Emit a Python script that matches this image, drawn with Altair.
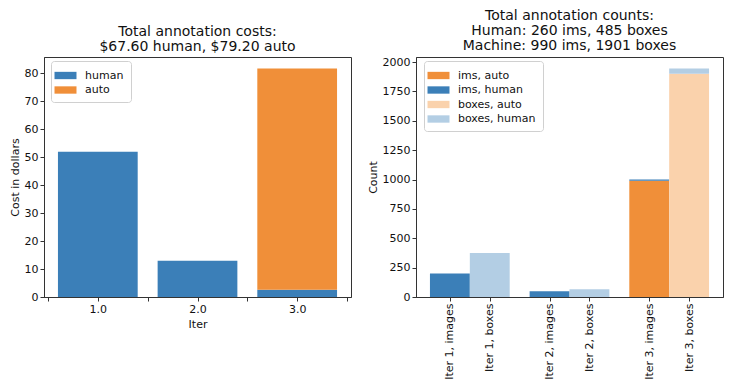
import altair as alt
import pandas as pd

# ---- data ----
iters = [1, 2, 3]
cost_human = [52.0, 13.0, 2.6]
cost_auto = [0.0, 0.0, 79.2]
ims_human = [200, 50, 10]
ims_auto = [0, 0, 990]
boxes_human = [375, 65, 45]
boxes_auto = [0, 0, 1901]
cost_series = ["human", "auto"]
count_series = ["ims, auto", "ims, human", "boxes, auto", "boxes, human"]
cost_ticks = [0.5, 1.0, 1.5, 2.0, 2.5, 3.0, 3.5]
count_tick_pos = [0.8, 1.2, 1.8, 2.2, 2.8, 3.2]
count_tick_labels = ["Iter 1, images", "Iter 1, boxes", "Iter 2, images",
                     "Iter 2, boxes", "Iter 3, images", "Iter 3, boxes"]
left_title = ["Total annotation costs:", "$67.60 human, $79.20 auto"]
right_title = ["Total annotation counts:", "Human: 260 ims, 485 boxes",
               "Machine: 990 ims, 1901 boxes"]

BLUE = "#3b7fb8"
ORANGE = "#f08f39"
LBLUE = "#b3cee4"
LORANGE = "#fad2ac"
FONT = "DejaVu Sans"

# ---- tables ----
cost_rows = []
for it, h, a in zip(iters, cost_human, cost_auto):
    cost_rows.append(dict(iter=it, series="human", value=h, order=0))
    cost_rows.append(dict(iter=it, series="auto", value=a, order=1))
cost_df = pd.DataFrame(cost_rows)

count_rows = []
for it, ih, ia, bh, ba in zip(iters, ims_human, ims_auto, boxes_human, boxes_auto):
    count_rows.append(dict(iter=it, off=-0.2, series="ims, auto", value=ia, order=0))
    count_rows.append(dict(iter=it, off=-0.2, series="ims, human", value=ih, order=1))
    count_rows.append(dict(iter=it, off=0.2, series="boxes, auto", value=ba, order=0))
    count_rows.append(dict(iter=it, off=0.2, series="boxes, human", value=bh, order=1))
count_df = pd.DataFrame(count_rows)

RECT = "M-1.5,-0.5L1.5,-0.5L1.5,0.5L-1.5,0.5Z"

def legend_common(x, y):
    return dict(orient="none", legendX=x, legendY=y, title=None,
                symbolType=RECT, symbolSize=215, symbolStrokeWidth=0,
                labelFont=FONT, labelFontSize=11, labelColor="#111",
                labelOffset=12, rowPadding=1.5, padding=7,
                fillColor="white", strokeColor="#d0d0d0", cornerRadius=3)

xlabel_cost = "datum.value % 1 == 0 ? format(datum.value, '.1f') : ''"
expr = "''"
for p, lab in reversed(list(zip(count_tick_pos, count_tick_labels))):
    expr = f"abs(datum.value - {p}) < 0.01 ? '{lab}' : ({expr})"

W, H = 307, 240

left = alt.Chart(cost_df).transform_stack(
    stack="value", groupby=["iter"], as_=["y0", "y1"],
    sort=[alt.SortField("order", order="ascending")]
).transform_calculate(
    x0="datum.iter - 0.4", x1="datum.iter + 0.4"
).transform_filter("datum.value > 0").mark_bar(strokeWidth=0).encode(
    x=alt.X("x0:Q", scale=alt.Scale(domain=[0.46, 3.54], nice=False, zero=False),
            axis=alt.Axis(values=cost_ticks, labelExpr=xlabel_cost, title="Iter")),
    x2="x1:Q",
    y=alt.Y("y0:Q", scale=alt.Scale(domain=[0, 85.9], nice=False),
            axis=alt.Axis(values=list(range(0, 81, 10)), format="d",
                          title="Cost in dollars")),
    y2="y1:Q",
    color=alt.Color("series:N",
                    scale=alt.Scale(domain=cost_series, range=[BLUE, ORANGE]),
                    legend=alt.Legend(**legend_common(7, 4))),
).properties(width=W, height=H,
             title=alt.TitleParams(text=left_title))

right = alt.Chart(count_df).transform_calculate(
    pos="datum.iter + datum.off"
).transform_stack(
    stack="value", groupby=["pos"], as_=["y0", "y1"],
    sort=[alt.SortField("order", order="ascending")]
).transform_calculate(
    x0="datum.pos - 0.2", x1="datum.pos + 0.2"
).transform_filter("datum.value > 0").mark_bar(strokeWidth=0).encode(
    x=alt.X("x0:Q", scale=alt.Scale(domain=[0.46, 3.54], nice=False, zero=False),
            axis=alt.Axis(values=count_tick_pos, labelExpr=expr, labelAngle=270,
                          title=None)),
    x2="x1:Q",
    y=alt.Y("y0:Q", scale=alt.Scale(domain=[0, 2043], nice=False),
            axis=alt.Axis(values=list(range(0, 2001, 250)), format="d",
                          title="Count")),
    y2="y1:Q",
    color=alt.Color("series:N",
                    scale=alt.Scale(domain=count_series,
                                    range=[ORANGE, BLUE, LORANGE, LBLUE]),
                    legend=alt.Legend(**legend_common(8, 4))),
).properties(width=W, height=H,
             title=alt.TitleParams(text=right_title))

chart = alt.hconcat(left, right, spacing=14).resolve_scale(
    color="independent", x="independent", y="independent"
).properties(
    padding={"left": 0, "top": 0, "right": 5, "bottom": 0}
).configure_view(
    stroke="#333", strokeWidth=1
).configure_axis(
    grid=False, labelFont=FONT, labelFontSize=11, labelColor="#111",
    titleFont=FONT, titleFontSize=11, titleFontWeight="normal", titleColor="#111",
    tickColor="#333", domainColor="#333", tickSize=4, labelPadding=2,
    titlePadding=4
).configure_title(
    font=FONT, fontSize=14, fontWeight="normal", color="#111",
    lineHeight=15, offset=3, anchor="middle"
).configure_legend(
    labelFont=FONT
)

chart.save("out.html", embed_options={"renderer": "svg", "actions": False})
